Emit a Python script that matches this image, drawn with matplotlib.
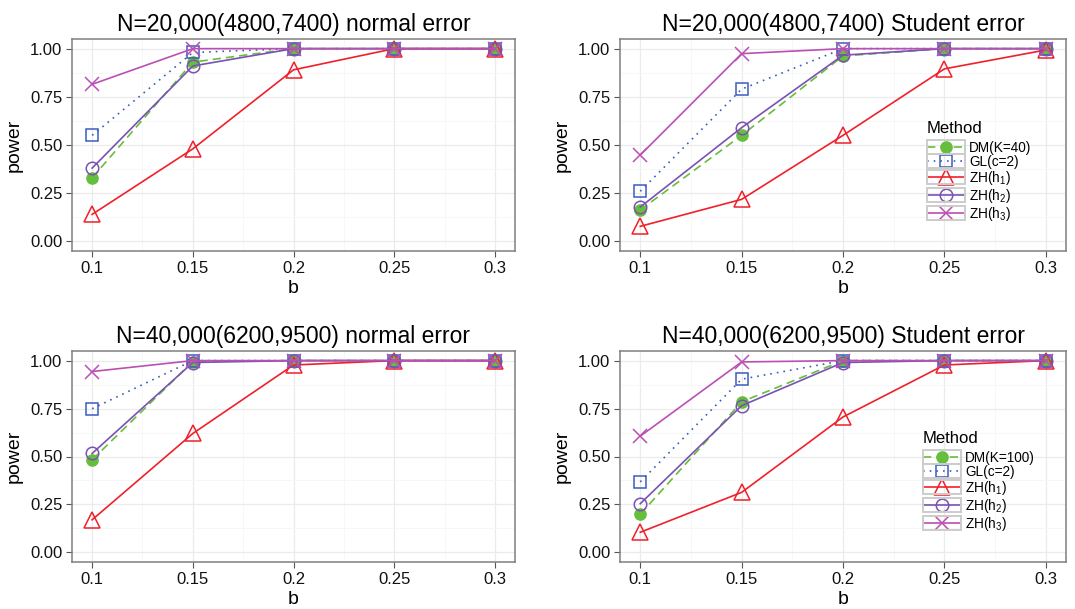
import matplotlib
matplotlib.use("Agg")
import matplotlib.pyplot as plt
from matplotlib.patches import Rectangle
from matplotlib.ticker import MultipleLocator

plt.rcParams["font.family"] = ["Liberation Sans", "DejaVu Sans"]
plt.rcParams["mathtext.fontset"] = "custom"
plt.rcParams["mathtext.rm"] = "Liberation Sans"
plt.rcParams["mathtext.it"] = "Liberation Sans:italic"

# x values (signal strength b) and tick labels
b = [0.1, 0.15, 0.2, 0.25, 0.3]
b_labels = ["0.1", "0.15", "0.2", "0.25", "0.3"]
y_ticks = [0.0, 0.25, 0.5, 0.75, 1.0]
y_labels = ["0.00", "0.25", "0.50", "0.75", "1.00"]

titles = ["N=20,000(4800,7400) normal error",
          "N=20,000(4800,7400) Student error",
          "N=40,000(6200,9500) normal error",
          "N=40,000(6200,9500) Student error"]

# power values
dm_20n = [0.33, 0.93, 1.0, 1.0, 1.0]
gl_20n = [0.55, 0.98, 1.0, 1.0, 1.0]
h1_20n = [0.14, 0.48, 0.89, 1.0, 1.0]
h2_20n = [0.38, 0.91, 1.0, 1.0, 1.0]
h3_20n = [0.815, 1.0, 1.0, 1.0, 1.0]

dm_20t = [0.163, 0.55, 0.962, 1.0, 1.0]
gl_20t = [0.26, 0.79, 1.0, 1.0, 1.0]
h1_20t = [0.078, 0.218, 0.55, 0.895, 0.993]
h2_20t = [0.178, 0.59, 0.966, 1.0, 1.0]
h3_20t = [0.448, 0.974, 1.0, 1.0, 1.0]

dm_40n = [0.483, 0.995, 1.0, 1.0, 1.0]
gl_40n = [0.749, 1.0, 1.0, 1.0, 1.0]
h1_40n = [0.17, 0.62, 0.977, 1.0, 1.0]
h2_40n = [0.516, 0.99, 1.0, 1.0, 1.0]
h3_40n = [0.943, 1.0, 1.0, 1.0, 1.0]

dm_40t = [0.199, 0.785, 1.0, 1.0, 1.0]
gl_40t = [0.368, 0.903, 1.0, 1.0, 1.0]
h1_40t = [0.105, 0.313, 0.706, 0.977, 1.0]
h2_40t = [0.254, 0.765, 0.99, 1.0, 1.0]
h3_40t = [0.606, 0.993, 1.0, 1.0, 1.0]

panels = [
    [dm_20n, gl_20n, h1_20n, h2_20n, h3_20n],
    [dm_20t, gl_20t, h1_20t, h2_20t, h3_20t],
    [dm_40n, gl_40n, h1_40n, h2_40n, h3_40n],
    [dm_40t, gl_40t, h1_40t, h2_40t, h3_40t],
]

labels_a = ["DM(K=40)", "GL(c=2)", "ZH(h$_1$)", "ZH(h$_2$)", "ZH(h$_3$)"]
labels_b = ["DM(K=100)", "GL(c=2)", "ZH(h$_1$)", "ZH(h$_2$)", "ZH(h$_3$)"]

colors = ["#66bf3c", "#3b5cc0", "#f0202a", "#7a52b3", "#bb4fb4"]
styles = [(0, (5, 3)), (0, (1, 3)), "-", "-", "-"]
markers = ["o", "s", "^", "o", "x"]
msizes = [8, 9, 12, 9, 10]
filled = [True, False, False, False, False]

W, H = 1075, 609
fig = plt.figure(figsize=(W / 100, H / 100), dpi=100)

# panel boxes in pixels: left, top, right, bottom
boxes = [(72, 39, 515, 251), (620, 39, 1066, 251),
         (72, 351, 515, 562), (620, 351, 1066, 562)]

axes = []
for i, (l, t, r, bt) in enumerate(boxes):
    ax = fig.add_axes([l / W, 1 - bt / H, (r - l) / W, (bt - t) / H])
    ax.set_xlim(0.09, 0.31)
    ax.set_ylim(-0.05, 1.05)
    ax.set_xticks(b)
    ax.set_xticklabels(b_labels)
    ax.set_yticks(y_ticks)
    ax.set_yticklabels(y_labels)
    ax.xaxis.set_minor_locator(MultipleLocator(0.025))
    ax.yaxis.set_minor_locator(MultipleLocator(0.125))
    ax.grid(which="major", color="#ebebeb", lw=0.9)
    ax.grid(which="minor", color="#f6f6f6", lw=0.6)
    ax.set_axisbelow(True)
    ax.tick_params(which="minor", length=0)
    ax.tick_params(which="major", length=4, color="#555555", labelsize=12,
                   labelcolor="#111111", pad=3)
    for s in ax.spines.values():
        s.set_color("#7f7f7f")
        s.set_linewidth(1.1)
    ax.set_title(titles[i], fontsize=16.5, pad=6)
    ax.set_xlabel("b", fontsize=14, labelpad=3)
    ax.set_ylabel("power", fontsize=14, labelpad=5)

    labs = labels_a if i < 2 else labels_b
    for k, vals in enumerate(panels[i]):
        ax.plot(b, vals, color=colors[k], ls=styles[k], lw=1.2,
                marker=markers[k], ms=msizes[k], mew=1.1,
                mfc=colors[k] if filled[k] else "none", mec=colors[k],
                label=labs[k])
    axes.append(ax)

# legends in the right-hand panels: (key left, title baseline, first box top)
legs = []
for ax, (lx, tb, top) in [(axes[1], (927, 133, 141)), (axes[3], (923, 443, 451))]:
    fig.text(lx / W, 1 - tb / H, "Method", fontsize=12, ha="left", va="baseline")
    leg = ax.legend(loc="upper left", bbox_to_anchor=(lx / W, 1 - top / H),
                    bbox_transform=fig.transFigure, frameon=False,
                    fontsize=9.8, handlelength=2.8, handleheight=0.8,
                    handletextpad=0.3, labelspacing=0.0,
                    borderpad=0, borderaxespad=0)
    legs.append(leg)

fig.canvas.draw()
# grey key boxes behind legend handles, as in ggplot
for leg in legs:
    for line in leg.get_lines():
        pts = line.get_transform().transform(line.get_xydata())
        x0, x1 = pts[:, 0].min(), pts[:, 0].max()
        cy = pts[:, 1].mean()
        fig.patches.append(Rectangle((x0, cy - 7.0), x1 - x0, 14.0,
                                     transform=None, fill=False,
                                     ec="#cccccc", lw=1.4, zorder=0))

fig.savefig("out.png", dpi=100)
